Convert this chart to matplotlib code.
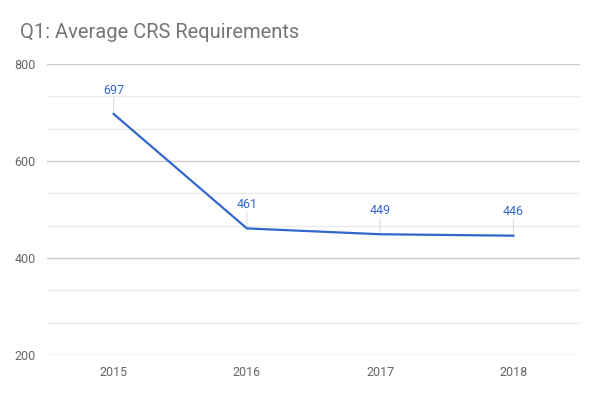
import matplotlib.pyplot as plt
import numpy as np

years = ["2015", "2016", "2017", "2018"]
crs = [697, 461, 449, 446]

plt.rcParams["font.family"] = ["Roboto", "DejaVu Sans"]

fig = plt.figure(figsize=(6, 3.96), dpi=100)
ax = fig.add_axes([0.0783, 0.1035, 0.8884, 0.7349])

x = np.arange(len(years))
ax.plot(x, crs, color="#3366cc", linewidth=1.6, zorder=3)

for xi, v in zip(x, crs):
    ax.annotate("", xy=(xi, v), xytext=(0, 12), textcoords="offset points",
                arrowprops=dict(arrowstyle="-", color="#dddddd", lw=0.8,
                                shrinkA=0, shrinkB=0), zorder=2)
    ax.annotate(str(v), xy=(xi, v), xytext=(0, 12.5), textcoords="offset points",
                ha="center", va="bottom", color="#3366cc", fontsize=9)

ax.set_xlim(-0.5, len(years) - 0.5)
ax.set_ylim(200, 800)
ax.set_xticks(x)
ax.set_xticklabels(years)
ax.set_yticks([200, 400, 600, 800])
ax.set_yticks([y for y in np.arange(200, 800, 200 / 3) if y % 200], minor=True)
ax.grid(axis="y", which="major", color="#cccccc", linewidth=1)
ax.grid(axis="y", which="minor", color="#ebebeb", linewidth=1)
ax.set_axisbelow(True)
for s in ax.spines.values():
    s.set_visible(False)
ax.tick_params(axis="both", which="both", length=0, colors="#666666", labelsize=9)
ax.tick_params(axis="x", pad=8)
ax.tick_params(axis="y", pad=8)

fig.text(0.033, 0.904, "Q1: Average CRS Requirements", fontsize=14.5, color="#757575",
         ha="left", va="baseline")

fig.savefig("out.png", dpi=100)
